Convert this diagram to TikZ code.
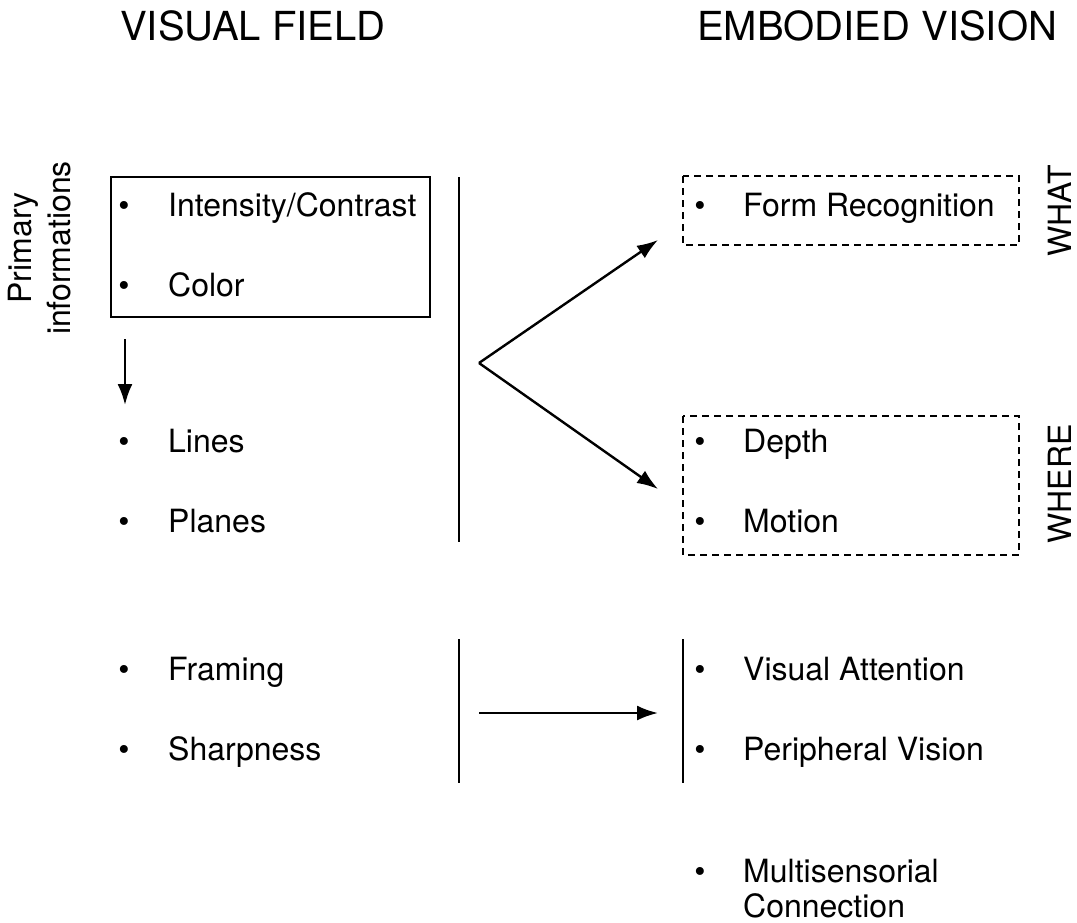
\documentclass[tikz,border=0pt]{standalone}
\usepackage{fontspec}
\setmainfont{TeX Gyre Heros}
\usetikzlibrary{arrows.meta}
\tikzset{
  txt/.style={inner sep=0pt, anchor=base west, font=\fontsize{32}{38}\selectfont},
  bul/.style={inner sep=0pt, anchor=base, font=\fontsize{32}{38}\selectfont},
  title/.style={inner sep=0pt, anchor=base west, font=\fontsize{40}{46}\selectfont},
  side/.style={inner sep=0pt, rotate=90, align=center, font=\fontsize{32}{39}\selectfont},
  rule/.style={line width=2.4pt},
  solidbox/.style={line width=2.4pt},
  dashbox/.style={line width=2.4pt, dash pattern=on 7pt off 5pt},
  arr/.style={line width=2.4pt, -{Latex[length=21pt,width=15pt]}},
}
\begin{document}
\begin{tikzpicture}[x=1pt,y=-1pt]
\useasboundingbox (0,0) rectangle (1077,922);

% headings
\node[title] (vf) at (120,40) {VISUAL FIELD};
\node[title] (ev) at (697,40) {EMBODIED VISION};

% side labels
\node[side] (prim) at (40,248) {Primary\\informations};
\node[side] (what) at (1060,211) {WHAT};
\node[side] (where) at (1060,484) {WHERE};

% boxes
\draw[solidbox] (111,177) rectangle (430,317);
\draw[dashbox] (683,176) rectangle (1019,245);
\draw[dashbox] (683,416) rectangle (1019,555);

% left column items
\node[bul] (b1) at (124,216) {\textbullet};
\node[txt] (t1) at (168,216) {Intensity/Contrast};
\node[bul] (b2) at (124,296) {\textbullet};
\node[txt] (t2) at (168,296) {Color};
\node[bul] (b3) at (124,452) {\textbullet};
\node[txt] (t3) at (168,452) {Lines};
\node[bul] (b4) at (124,532) {\textbullet};
\node[txt] (t4) at (168,532) {Planes};
\node[bul] (b5) at (124,680) {\textbullet};
\node[txt] (t5) at (168,680) {Framing};
\node[bul] (b6) at (124,760) {\textbullet};
\node[txt] (t6) at (168,760) {Sharpness};

% right column items
\node[bul] (r1) at (700,216) {\textbullet};
\node[txt] (s1) at (743,216) {Form Recognition};
\node[bul] (r2) at (700,452) {\textbullet};
\node[txt] (s2) at (743,452) {Depth};
\node[bul] (r3) at (700,532) {\textbullet};
\node[txt] (s3) at (743,532) {Motion};
\node[bul] (r4) at (700,680) {\textbullet};
\node[txt] (s4) at (743,680) {Visual Attention};
\node[bul] (r5) at (700,760) {\textbullet};
\node[txt] (s5) at (743,760) {Peripheral Vision};
\node[bul] (r6) at (700,882) {\textbullet};
\node[txt] (s6) at (743,882) {Multisensorial};
\node[txt] (s7) at (743,917) {Connection};

% divider rules
\coordinate (d1a) at (459,177);
\coordinate (d1b) at (459,542);
\coordinate (d2a) at (459,639);
\coordinate (d2b) at (459,783);
\coordinate (d3a) at (683,639);
\coordinate (d3b) at (683,783);
\draw[rule] (d1a) -- (d1b);
\draw[rule] (d2a) -- (d2b);
\draw[rule] (d3a) -- (d3b);

% connectors
\coordinate (down0) at (125,339);
\coordinate (down1) at (125,405);
\coordinate (apex) at (479,363);
\coordinate (whatTip) at (658,240);
\coordinate (whereTip) at (658,489);
\coordinate (hz0) at (479,713);
\coordinate (hz1) at (658,713);
\draw[arr] (down0) -- (down1);
\draw[arr] (apex) -- (whatTip);
\draw[arr] (apex) -- (whereTip);
\draw[arr] (hz0) -- (hz1);
\end{tikzpicture}
\end{document}
